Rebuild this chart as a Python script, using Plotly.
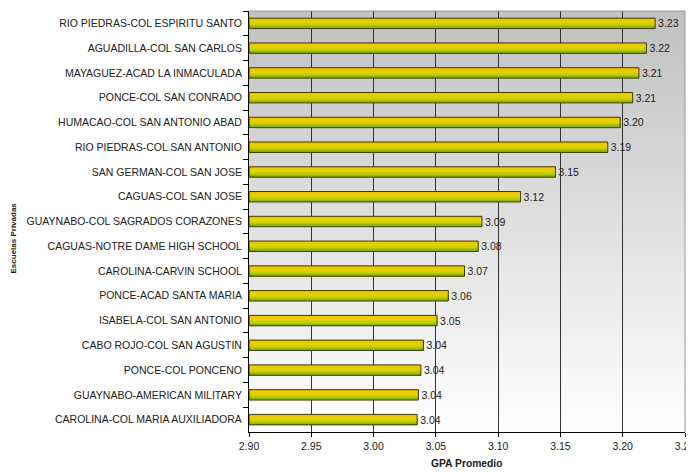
import base64
import plotly.graph_objects as go

schools = [
    "RIO PIEDRAS-COL ESPIRITU SANTO",
    "AGUADILLA-COL SAN CARLOS",
    "MAYAGUEZ-ACAD LA INMACULADA",
    "PONCE-COL SAN CONRADO",
    "HUMACAO-COL SAN ANTONIO ABAD",
    "RIO PIEDRAS-COL SAN ANTONIO",
    "SAN GERMAN-COL SAN JOSE",
    "CAGUAS-COL SAN JOSE",
    "GUAYNABO-COL SAGRADOS CORAZONES",
    "CAGUAS-NOTRE DAME HIGH SCHOOL",
    "CAROLINA-CARVIN SCHOOL",
    "PONCE-ACAD SANTA MARIA",
    "ISABELA-COL SAN ANTONIO",
    "CABO ROJO-COL SAN AGUSTIN",
    "PONCE-COL PONCENO",
    "GUAYNABO-AMERICAN MILITARY",
    "CAROLINA-COL MARIA AUXILIADORA",
]
gpa = [3.226, 3.219, 3.213, 3.208, 3.198, 3.188, 3.146, 3.118, 3.087,
       3.084, 3.073, 3.060, 3.051, 3.040, 3.038, 3.036, 3.035]

x_ticks = [2.90, 2.95, 3.00, 3.05, 3.10, 3.15, 3.20, 3.25]

BASE = 2.90
FONT = "Liberation Sans, Arial, sans-serif"
BAR_W = 0.42
stripe_colors = ["#f2c400", "#eccc00", "#e2d200", "#cccf00", "#b0c600", "#92b800"]

lengths = [v - BASE for v in gpa]

fig = go.Figure()
n = len(stripe_colors)
for i, c in enumerate(stripe_colors):
    top = -BAR_W / 2 + i * BAR_W / n
    fig.add_trace(go.Bar(
        x=lengths, y=schools, orientation="h",
        base=BASE, width=BAR_W / 2 - top, offset=top,
        marker=dict(color=c, line=dict(width=0)),
        hoverinfo="skip", showlegend=False,
    ))

fig.add_trace(go.Bar(
    x=lengths, y=schools, orientation="h",
    base=BASE, width=BAR_W, offset=-BAR_W / 2,
    marker=dict(color="rgba(0,0,0,0)", line=dict(color="#3a3a00", width=1)),
    text=[f"{v:.2f}" for v in gpa], textposition="outside",
    constraintext="none",
    textfont=dict(family=FONT, size=10.5, color="#222222"),
    cliponaxis=False, showlegend=False,
))

svg = ('<svg xmlns="http://www.w3.org/2000/svg" width="100" height="100" '
       'preserveAspectRatio="none"><defs><linearGradient id="g" x1="0" y1="0" '
       'x2="0" y2="1"><stop offset="0" stop-color="#c0c0c0"/><stop offset="1" '
       'stop-color="#ffffff"/></linearGradient></defs><rect width="100" '
       'height="100" fill="url(#g)"/></svg>')
src = "data:image/svg+xml;base64," + base64.b64encode(svg.encode()).decode()

# page body has an 8px margin, so the figure is sized to the visible area
fig.update_layout(
    width=686, height=464,
    margin=dict(l=241, r=9, t=3, b=40, autoexpand=False),
    paper_bgcolor="white", plot_bgcolor="rgba(0,0,0,0)",
    barmode="overlay",
    font=dict(family=FONT, size=10.5, color="#222222"),
    images=[dict(source=src, xref="paper", yref="paper", x=0, y=1,
                 sizex=1, sizey=1, sizing="stretch", xanchor="left",
                 yanchor="top", layer="below")],
    xaxis=dict(range=[2.90, 3.25], tickvals=x_ticks,
               ticktext=[f"{v:.2f}" for v in x_ticks],
               showgrid=True, gridcolor="#333333", gridwidth=1,
               showline=True, linecolor="black", linewidth=1,
               ticks="outside", ticklen=4, tickcolor="black",
               zeroline=False, tickfont=dict(size=10.5), automargin=False,
               ticklabeloverflow="allow"),
    yaxis=dict(autorange="reversed", showgrid=False,
               showline=True, linecolor="black", linewidth=1,
               ticks="outside", tickson="boundaries", ticklen=5,
               tickcolor="black", tickfont=dict(size=10.5),
               ticklabelstandoff=4, automargin=False),
    shapes=[
        dict(type="line", xref="paper", yref="paper", x0=0, x1=1, y0=1, y1=1,
             line=dict(color="#999999", width=1)),
        dict(type="line", xref="paper", yref="paper", x0=1, x1=1, y0=0, y1=1,
             line=dict(color="#999999", width=1)),
    ],
    annotations=[
        dict(text="<b>GPA Promedio</b>", xref="paper", yref="paper",
             x=0.5, y=-0.074, xanchor="center", yanchor="middle",
             showarrow=False, font=dict(size=10.3, color="#222222")),
        dict(text="<b>Escuelas Privadas</b>", xref="paper", yref="paper",
             x=-0.541, y=0.46, xanchor="center", yanchor="middle",
             textangle=-90, showarrow=False,
             font=dict(size=8, color="#222222")),
    ],
)

fig.write_html("out.html")
